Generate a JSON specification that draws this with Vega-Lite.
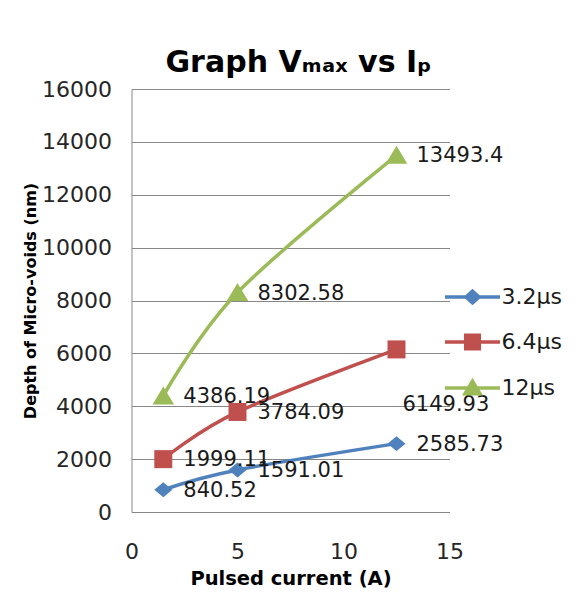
{
  "$schema": "https://vega.github.io/schema/vega-lite/v6.json",
  "width": 318,
  "height": 423,
  "autosize": "none",
  "padding": {"left": 131.5, "top": 89, "right": 130.5, "bottom": 82},
  "background": "white",
  "title": {
    "text": "Graph Vₘₐₓ vs Iₚ",
    "font": "DejaVu Sans",
    "fontWeight": "bold",
    "fontSize": 30,
    "color": "#000000",
    "anchor": "middle",
    "baseline": "alphabetic",
    "offset": -24,
    "dx": 8
  },
  "data": {
    "values": [
      {"series": "3.2µs", "current": 1.5, "depth": 840.52},
      {"series": "3.2µs", "current": 5, "depth": 1591.01},
      {"series": "3.2µs", "current": 12.5, "depth": 2585.73},
      {"series": "6.4µs", "current": 1.5, "depth": 1999.11},
      {"series": "6.4µs", "current": 5, "depth": 3784.09},
      {"series": "6.4µs", "current": 12.5, "depth": 6149.93},
      {"series": "12µs", "current": 1.5, "depth": 4386.19},
      {"series": "12µs", "current": 5, "depth": 8302.58},
      {"series": "12µs", "current": 12.5, "depth": 13493.4}
    ]
  },
  "config": {
    "view": {"stroke": null},
    "axis": {
      "labelFont": "DejaVu Sans",
      "labelFontSize": 22,
      "labelColor": "#262626",
      "titleFont": "DejaVu Sans",
      "titleFontWeight": "bold",
      "titleColor": "#000000",
      "domainColor": "#878787",
      "domainWidth": 1,
      "gridColor": "#878787",
      "gridWidth": 1,
      "ticks": false
    }
  },
  "encoding": {
    "x": {
      "field": "current",
      "type": "quantitative",
      "scale": {"domain": [0, 15], "nice": false},
      "axis": {
        "title": "Pulsed current (A)",
        "titleFontSize": 19.5,
        "titlePadding": 7,
        "values": [0, 5, 10, 15],
        "grid": false,
        "labelPadding": 29,
        "labelFlush": false
      }
    },
    "y": {
      "field": "depth",
      "type": "quantitative",
      "scale": {"domain": [0, 16000], "nice": false},
      "axis": {
        "title": "Depth of Micro-voids (nm)",
        "titleFontSize": 16,
        "titlePadding": 3,
        "values": [0, 2000, 4000, 6000, 8000, 10000, 12000, 14000, 16000],
        "format": "d",
        "grid": true,
        "labelPadding": 20
      }
    },
    "color": {
      "field": "series",
      "type": "nominal",
      "scale": {
        "domain": ["3.2µs", "6.4µs", "12µs"],
        "range": ["#4F81BD", "#C0504D", "#9BBB59"]
      },
      "legend": {
        "title": null,
        "orient": "none",
        "legendX": 329,
        "legendY": 196,
        "padding": 0,
        "symbolSize": 400,
        "symbolType": {"expr": "datum.value === '3.2µs' ? 'M-2.75,0H2.75M-0.65,0L0,-0.58L0.65,0L0,0.58Z' : datum.value === '6.4µs' ? 'M-2.75,0H2.75M-0.68,-0.68H0.68V0.68H-0.68Z' : 'M-2.75,0H2.75M0,-0.68L0.75,0.58H-0.75Z'"},
        "symbolFillColor": {"expr": "scale('color', datum.value)"},
        "symbolStrokeColor": {"expr": "scale('color', datum.value)"},
        "symbolStrokeWidth": 3.5,
        "symbolOpacity": 1,
        "labelFont": "DejaVu Sans",
        "labelFontSize": 22,
        "labelColor": "#1a1a1a",
        "labelOffset": 17,
        "rowPadding": 18
      }
    }
  },
  "layer": [
    {
      "mark": {"type": "line", "interpolate": "cardinal", "tension": 0, "strokeWidth": 3.5}
    },
    {
      "transform": [{"filter": "datum.series === '3.2µs'"}],
      "mark": {"type": "point", "filled": true, "opacity": 1, "size": 324, "shape": "M-1,0L0,-0.83L1,0L0,0.83Z"}
    },
    {
      "transform": [{"filter": "datum.series === '6.4µs'"}],
      "mark": {"type": "point", "filled": true, "opacity": 1, "size": 324, "shape": "M-1,-1H1V1H-1Z"}
    },
    {
      "transform": [{"filter": "datum.series === '12µs'"}],
      "mark": {"type": "point", "filled": true, "opacity": 1, "size": 324, "shape": "M0,-1.05L1.2,0.95H-1.2Z"}
    },
    {
      "transform": [{"filter": "datum.depth !== 6149.93"}],
      "mark": {
        "type": "text",
        "align": "left",
        "baseline": "middle",
        "dx": 20,
        "dy": 1,
        "font": "DejaVu Sans",
        "fontSize": 21
      },
      "encoding": {
        "text": {"field": "depth", "type": "nominal"},
        "color": {"value": "#1a1a1a"}
      }
    },
    {
      "transform": [{"filter": "datum.depth === 6149.93"}],
      "mark": {
        "type": "text",
        "align": "left",
        "baseline": "middle",
        "dx": 6,
        "dy": 56,
        "font": "DejaVu Sans",
        "fontSize": 21
      },
      "encoding": {
        "text": {"field": "depth", "type": "nominal"},
        "color": {"value": "#1a1a1a"}
      }
    }
  ]
}
